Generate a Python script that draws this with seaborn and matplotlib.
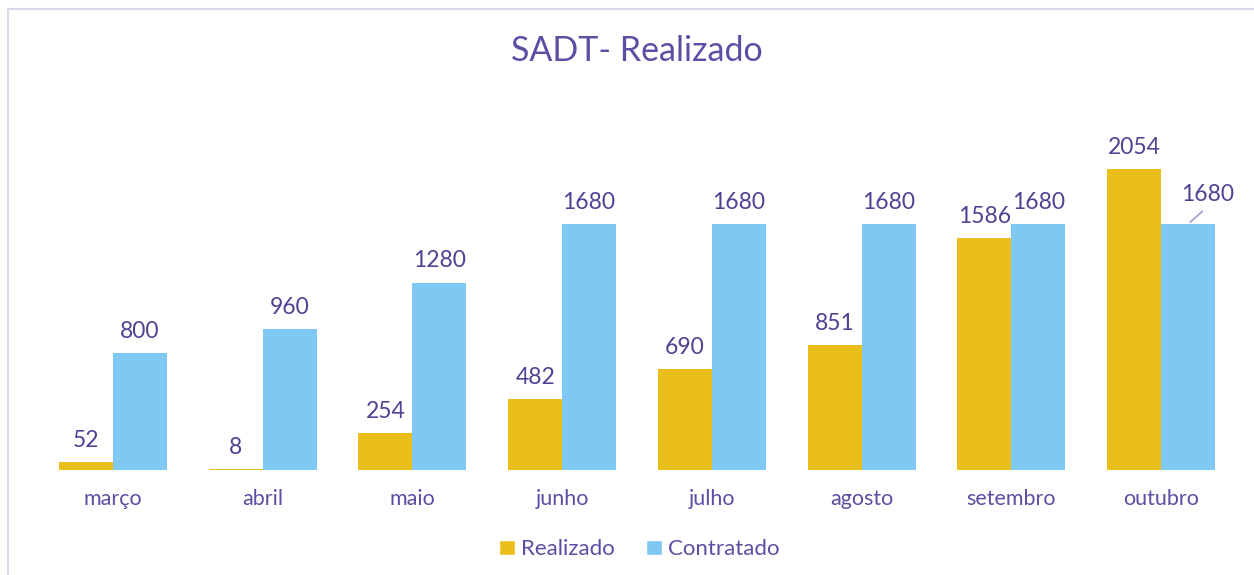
import matplotlib as mpl
import seaborn as sns
mpl.use('Agg')
import matplotlib.pyplot as plt
import pandas as pd
from matplotlib.lines import Line2D
from matplotlib.patches import Patch

sns.set_theme(style="white")
plt.rcParams["font.family"] = ["Lato", "DejaVu Sans"]

meses = ["março", "abril", "maio", "junho", "julho", "agosto", "setembro", "outubro"]
realizado = [52, 8, 254, 482, 690, 851, 1586, 2054]
contratado = [800, 960, 1280, 1680, 1680, 1680, 1680, 1680]
series = ["Realizado", "Contratado"]

cor_real = "#EABE1B"
cor_contr = "#7FC8F3"
cor_texto = "#4E4393"
cor_titulo = "#5A4FA3"

df = pd.DataFrame({
    "mes": meses * 2,
    "valor": realizado + contratado,
    "serie": [series[0]] * len(meses) + [series[1]] * len(meses),
})

fig = plt.figure(figsize=(12.54, 5.75), dpi=100)
ax = fig.add_axes([38 / 1254, 105 / 575, 1198 / 1254, 366 / 575])

sns.barplot(data=df, x="mes", y="valor", hue="serie", order=meses, hue_order=series,
            palette=[cor_real, cor_contr], width=0.72, saturation=1, linewidth=0,
            ax=ax, legend=False)

ax.set_ylim(0, 2500)
ax.set_xlim(-0.5, len(meses) - 0.5)
for s in ax.spines.values():
    s.set_visible(False)
ax.set_yticks([])
ax.set_xlabel("")
ax.set_ylabel("")
ax.tick_params(axis="x", length=0, pad=14, labelsize=15.5, labelcolor=cor_titulo)

# rótulos de dados
c_real, c_contr = ax.containers[0], ax.containers[1]
ax.bar_label(c_real, labels=[str(v) for v in realizado], padding=8, fontsize=16.5, color=cor_texto)
ax.bar_label(c_contr, labels=[str(v) for v in contratado[:-1]] + [""], padding=8, fontsize=16.5, color=cor_texto)

# último rótulo deslocado com linha guia
last = c_contr.patches[-1]
x0 = last.get_x() + last.get_width() / 2
y0 = last.get_height()
ax.annotate(str(contratado[-1]), xy=(x0, y0), xytext=(14, 14), textcoords="offset points",
            ha="center", va="bottom", fontsize=16.5, color=cor_texto)
ax.annotate("", xy=(x0, y0), xytext=(x0 + 0.11, y0 + 100),
            arrowprops=dict(arrowstyle="-", color="#A79BD0", lw=1.2))

fig.text(0.508, 0.912, "SADT- Realizado", ha="center", va="center", fontsize=24.5, color=cor_titulo)

handles = [Patch(facecolor=cor_real, label=series[0]), Patch(facecolor=cor_contr, label=series[1])]
fig.legend(handles=handles, loc="center", bbox_to_anchor=(0.51, 0.045), ncol=2, frameon=False,
           fontsize=16, labelcolor=cor_titulo, handlelength=0.7, handleheight=0.7,
           handletextpad=0.3, columnspacing=1.4)

# borda do gráfico
fig.add_artist(Line2D([8 / 1254, 1], [1 - 9 / 575, 1 - 9 / 575], transform=fig.transFigure, color="#DCD8EC", lw=1.5))
fig.add_artist(Line2D([8 / 1254, 8 / 1254], [0, 1 - 9 / 575], transform=fig.transFigure, color="#DCD8EC", lw=1.5))

fig.savefig("out.png", dpi=100)
